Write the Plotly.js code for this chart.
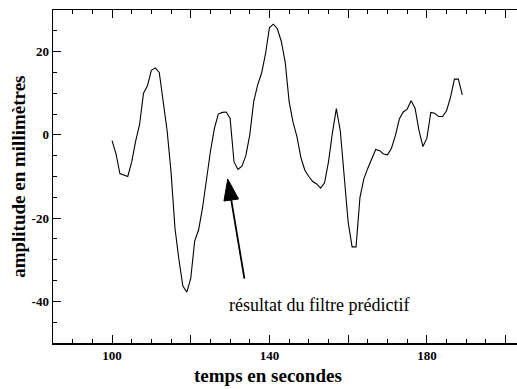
<!DOCTYPE html>
<html>
<head>
<meta charset="utf-8">
<script src="https://cdn.plot.ly/plotly-3.0.1.min.js"></script>
<style>html,body{margin:0;padding:0;background:#fff;}#chart{width:517px;height:389px;}</style>
</head>
<body>
<div id="chart"></div>
<script>
// time in seconds
var temps = [100,101,102,103,104,105,106,107,108,109,
             110,111,112,113,114,115,116,117,118,119,
             120,121,122,123,124,125,126,127,128,129,
             130,131,132,133,134,135,136,137,138,139,
             140,141,142,143,144,145,146,147,148,149,
             150,151,152,153,154,155,156,157,158,159,
             160,161,162,163,164,165,166,167,168,169,
             170,171,172,173,174,175,176,177,178,179,
             180,181,182,183,184,185,186,187,188,189];
// amplitude in millimetres (filter output)
var amplitude = [-1.4,-4.5,-9.3,-9.7,-10.0,-6.5,-1.5,2.5,10.0,11.8,
                 15.5,16.1,15.0,8.0,1.0,-9.0,-22.5,-30.0,-36.3,-37.8,
                 -34.5,-25.5,-22.8,-17.5,-10.5,-4.0,1.5,5.0,5.4,5.5,
                 4.0,-6.5,-8.3,-7.5,-5.0,0.0,8.0,12.0,14.8,19.5,
                 25.8,26.6,25.5,22.5,17.5,8.0,3.0,-0.5,-5.5,-8.5,
                 -10.0,-11.2,-11.8,-12.8,-11.5,-6.5,0.5,6.3,1.0,-10.5,
                 -21.0,-26.9,-26.9,-15.0,-10.5,-8.0,-5.5,-3.5,-3.8,-4.6,
                 -4.8,-3.2,-0.2,3.8,5.5,6.2,8.2,6.4,1.0,-2.8,
                 -0.8,5.4,5.2,4.4,4.4,5.8,9.0,13.4,13.4,9.6];
var xTickVals = [100,120,140,160,180,200];
var xTickText = ['100','','140','','180',''];
var yTickVals = [-40,-20,0,20];
var yTickText = ['-40','-20','0','20'];
var xTitle = 'temps en secondes';
var yTitle = 'amplitude en millimètres';
var noteText = 'résultat du filtre prédictif';
// arrow: tip and tail in data units
var arrowTip = [129.4, -10.6];
var arrowTail = [133.7, -34.9];

var serif = 'Liberation Serif';

var trace = {
  x: temps, y: amplitude, type: 'scatter', mode: 'lines',
  line: {color: '#000', width: 1.1}, hoverinfo: 'skip'
};

var tickFont = {family: serif, size: 13, color: '#000', weight: 'bold'};

var layout = {
  width: 517, height: 389,
  margin: {l: 53, r: 0, t: 10, b: 46},
  paper_bgcolor: '#fff', plot_bgcolor: '#fff',
  showlegend: false,
  font: {family: serif, color: '#000'},
  xaxis: {
    range: [85, 202.9], showgrid: false, zeroline: false,
    showline: true, linecolor: '#000', linewidth: 1.5, mirror: 'ticks',
    ticks: 'inside', ticklen: 8, tickwidth: 1, tickcolor: '#000',
    tickmode: 'array', tickvals: xTickVals, ticktext: xTickText,
    tickfont: tickFont,
    minor: {tickmode: 'linear', tick0: 0, dtick: 5, ticks: 'inside', ticklen: 4, tickwidth: 1, tickcolor: '#000'}
  },
  yaxis: {
    range: [-50, 30], showgrid: false, zeroline: false,
    showline: true, linecolor: '#000', linewidth: 1.5, mirror: false,
    ticks: 'inside', ticklen: 8, tickwidth: 1, tickcolor: '#000',
    tickmode: 'array', tickvals: yTickVals, ticktext: yTickText,
    tickfont: tickFont,
    minor: {tickmode: 'linear', tick0: 0, dtick: 5, ticks: 'inside', ticklen: 4, tickwidth: 1, tickcolor: '#000'}
  },
  annotations: [
    {xref: 'paper', yref: 'paper', x: 0.4627, y: -0.099, xanchor: 'center', yanchor: 'middle',
     text: xTitle, showarrow: false, font: {family: serif, size: 19, color: '#000', weight: 'bold'}},
    {xref: 'paper', yref: 'paper', x: -0.0747, y: 0.5, xanchor: 'center', yanchor: 'middle', textangle: -90,
     text: yTitle, showarrow: false, font: {family: serif, size: 19, color: '#000', weight: 'bold'}},
    {xref: 'x', yref: 'y', x: 129.3, y: -40.9, xanchor: 'left', yanchor: 'middle',
     text: noteText, showarrow: false, font: {family: serif, size: 18, color: '#000'}},
    {xref: 'x', yref: 'y', axref: 'x', ayref: 'y', x: arrowTip[0], y: arrowTip[1],
     ax: arrowTail[0], ay: arrowTail[1], text: '', showarrow: true, arrowhead: 0,
     arrowwidth: 1.8, arrowcolor: '#000', standoff: 10}
  ],
  shapes: [
    {type: 'path', xref: 'x', yref: 'y', xsizemode: 'pixel', ysizemode: 'pixel',
     xanchor: arrowTip[0], yanchor: arrowTip[1],
     path: 'M0,0 L10.8,-20 L-3.8,-22 Z', fillcolor: '#000', line: {color: '#000', width: 1}}
  ]
};

Plotly.newPlot('chart', [trace], layout, {displayModeBar: false, staticPlot: true});
</script>
</body>
</html>
